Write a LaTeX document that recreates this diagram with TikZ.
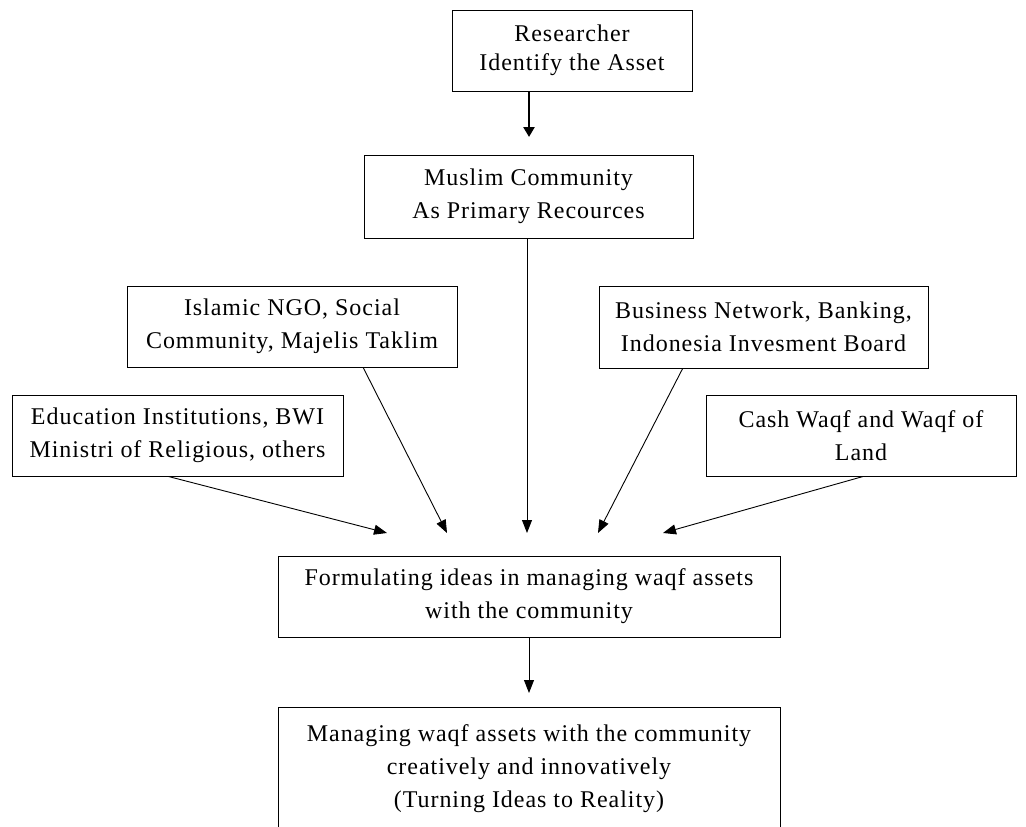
\documentclass[tikz,border=0pt]{standalone}
\usepackage{fontspec}
\setmainfont[LetterSpace=4]{Liberation Serif}
\usetikzlibrary{arrows.meta,calc}
\begin{document}
\begin{tikzpicture}[x=1pt,y=-1pt,
  box/.style={draw, line width=1pt, align=center, inner sep=0pt,
    font=\fontsize{24}{33}\selectfont},
  arr/.style={line width=0.9pt, -{Triangle[length=13pt,width=10pt]}},
  thickarr/.style={line width=2.6pt, -{Triangle[length=10pt,width=11pt]}}]
\useasboundingbox (0,0) rectangle (1026,827);
\begin{scope}
\clip (0,0) rectangle (1026,827);
\node[box, minimum width=240pt, minimum height=81pt, font=\fontsize{24}{29}\selectfont] (r) at (572,50.5) {Researcher\\Identify the Asset};
\node[box, minimum width=329pt, minimum height=83pt] (m) at (528.5,196.5) {Muslim Community\\As Primary Recources};
\node[box, minimum width=330pt, minimum height=81pt] (i) at (292,326.5) {Islamic NGO, Social\\Community, Majelis Taklim};
\node[box, minimum width=329pt, minimum height=82pt] (b) at (763.5,327) {Business Network, Banking,\\Indonesia Invesment Board};
\node[box, minimum width=331pt, minimum height=81pt] (e) at (177.5,435.5) {Education Institutions, BWI\\Ministri of Religious, others};
\node[box, minimum width=310pt, minimum height=81pt] (c) at (861,435.5) {Cash Waqf and Waqf of\\Land};
\node[box, minimum width=502pt, minimum height=81pt] (f) at (529,596.5) {Formulating ideas in managing waqf assets\\with the community};
\node[box, anchor=north, minimum width=502pt, minimum height=122pt] (g) at (529,707) {Managing waqf assets with the community\\creatively and innovatively\\(Turning Ideas to Reality)};
\end{scope}
\coordinate (te) at (387,533);
\coordinate (ti) at (447,533);
\coordinate (tm) at (527,533);
\coordinate (tb) at (598,533);
\coordinate (tc) at (663,533);
\coordinate (tg) at (529,693);
\coordinate (tr) at (529,137);
\draw[thickarr] (r.south -| tr) -- (tr);
\draw[arr] ($(e.south)+(-9,0)$) -- (te);
\draw[arr] ($(i.south west)!0.715!(i.south east)$) -- (ti);
\draw[arr] (m.south -| tm) -- (tm);
\draw[arr] ($(b.south west)!0.255!(b.south east)$) -- (tb);
\draw[arr] ($(c.south)+(2,0)$) -- (tc);
\draw[arr] (f.south) -- (tg);
\end{tikzpicture}
\end{document}
